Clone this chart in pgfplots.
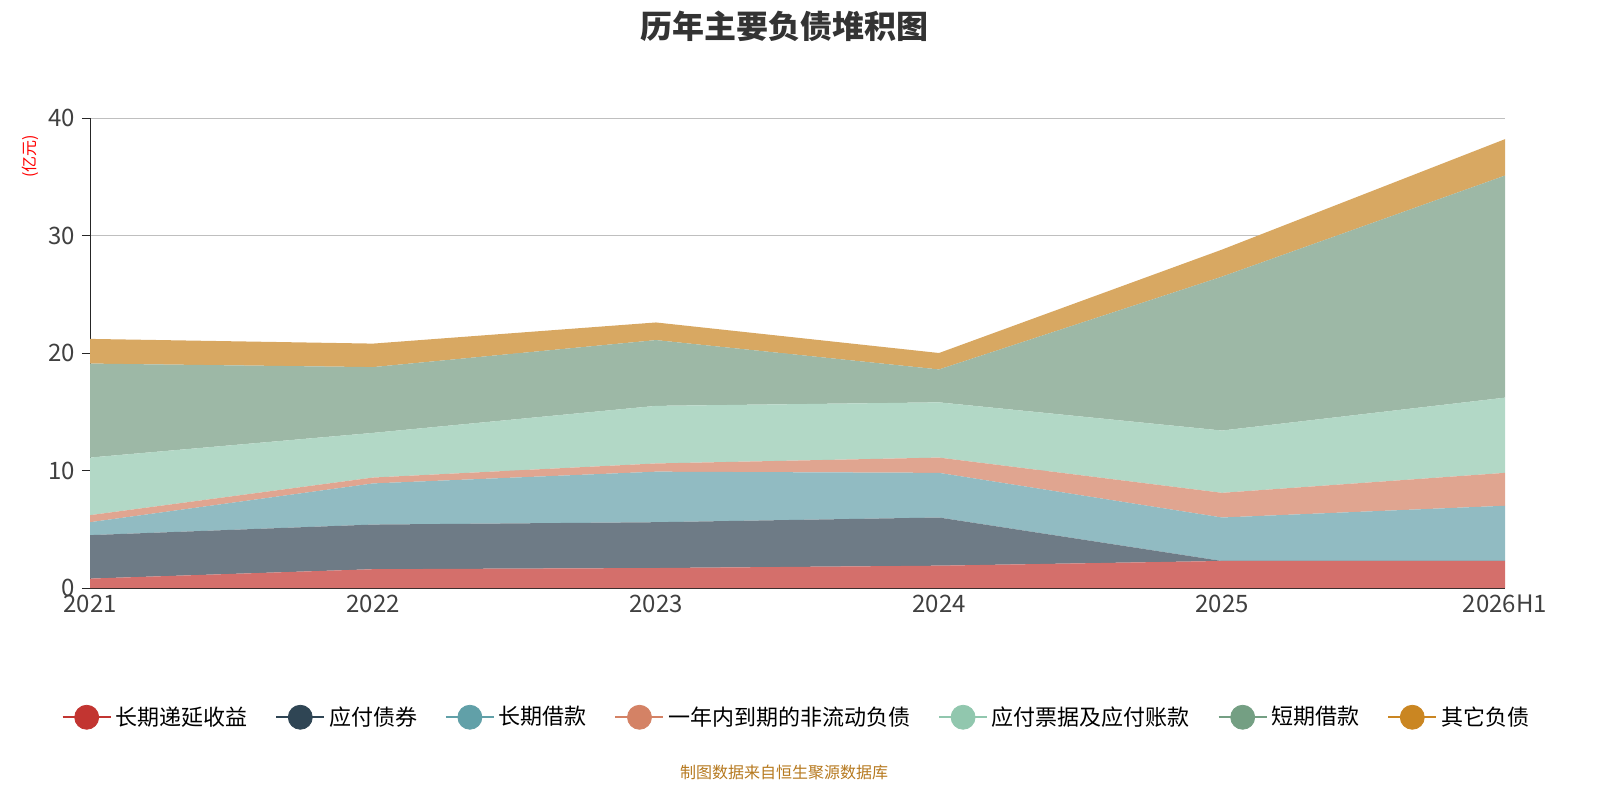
\documentclass[border=0pt]{standalone}
\usepackage{pgfplots}
\pgfplotsset{compat=1.18}
\usepackage{fontspec}
\setmainfont{Noto Sans CJK SC}
\definecolor{f1}{HTML}{D46F6B}
\definecolor{f2}{HTML}{6E7B86}
\definecolor{f3}{HTML}{91BBC2}
\definecolor{f4}{HTML}{E0A590}
\definecolor{f5}{HTML}{B2D8C6}
\definecolor{f6}{HTML}{9DB8A6}
\definecolor{f7}{HTML}{D8A862}
\definecolor{c1}{HTML}{C23531}
\definecolor{c2}{HTML}{2F4554}
\definecolor{c3}{HTML}{61A0A8}
\definecolor{c4}{HTML}{D48265}
\definecolor{c5}{HTML}{91C7AE}
\definecolor{c6}{HTML}{749F83}
\definecolor{c7}{HTML}{CA8622}
\begin{document}
\begin{tikzpicture}
\node[font=\bfseries\fontsize{16}{18}\selectfont,text=black!80] at (392pt,387pt) {历年主要负债堆积图};
\node[font=\fontsize{8}{9}\selectfont,text=c7!90!black] at (392pt,14pt) {制图数据来自恒生聚源数据库};
\node[font=\fontsize{8}{9}\selectfont,text=red,rotate=90] at (15pt,322pt) {(亿元)};
\begin{axis}[at={(45pt,106pt)},anchor=origin,
 scale only axis,width=707.5pt,height=235pt,
 xmin=0,xmax=5,ymin=0,ymax=40,
 stack plots=y,
 xtick={0,1,2,3,4,5},xticklabels={2021,2022,2023,2024,2025,2026H1},
 ytick={0,10,20,30,40},
 axis lines*=left, axis line style={black!85},
 ymajorgrids, grid style={black!25},
 tick style={black!85}, xtick style={draw=none},
 ytick align=outside, major tick length=4pt,
 tick label style={font=\fontsize{12}{13}\selectfont,text=black!75},
 /pgf/number format/assume math mode=true,
 clip=false,
 legend columns=7,
 legend style={draw=none,at={(0.5,-0.275)},anchor=center,font=\fontsize{11}{13}\selectfont,
   /tikz/every even column/.append style={column sep=12pt}},
 legend image code/.code={\draw[line width=0.8pt] (0pt,0pt)--(24pt,0pt); \fill (12pt,0pt) circle (6pt);},
]
\addplot[fill=f1,draw=none,forget plot] coordinates {(0,0.8)(1,1.6)(2,1.7)(3,1.9)(4,2.3)(5,2.3)} \closedcycle;
\addplot[fill=f2,draw=none,forget plot] coordinates {(0,3.7)(1,3.8)(2,3.9)(3,4.1)(4,0)(5,0)} \closedcycle;
\addplot[fill=f3,draw=none,forget plot] coordinates {(0,1.1)(1,3.5)(2,4.3)(3,3.8)(4,3.7)(5,4.7)} \closedcycle;
\addplot[fill=f4,draw=none,forget plot] coordinates {(0,0.6)(1,0.5)(2,0.7)(3,1.3)(4,2.1)(5,2.8)} \closedcycle;
\addplot[fill=f5,draw=none,forget plot] coordinates {(0,4.9)(1,3.8)(2,4.9)(3,4.7)(4,5.3)(5,6.4)} \closedcycle;
\addplot[fill=f6,draw=none,forget plot] coordinates {(0,8.0)(1,5.6)(2,5.6)(3,2.8)(4,13.1)(5,18.9)} \closedcycle;
\addplot[fill=f7,draw=none,forget plot] coordinates {(0,2.1)(1,2.0)(2,1.5)(3,1.4)(4,2.3)(5,3.1)} \closedcycle;
\addlegendimage{c1}
\addlegendimage{c2}
\addlegendimage{c3}
\addlegendimage{c4}
\addlegendimage{c5}
\addlegendimage{c6}
\addlegendimage{c7}
\legend{长期递延收益,应付债券,长期借款,一年内到期的非流动负债,应付票据及应付账款,短期借款,其它负债}
\end{axis}
\pgfresetboundingbox
\path[use as bounding box] (0,0) rectangle (800pt,400pt);
\end{tikzpicture}
\end{document}
